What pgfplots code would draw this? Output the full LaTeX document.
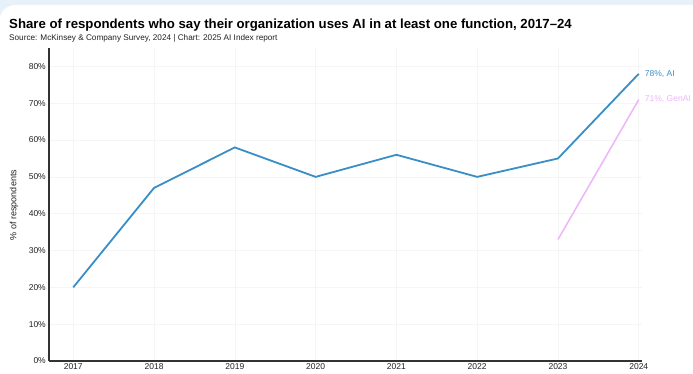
\documentclass[border=0pt]{standalone}
\usepackage{fontspec}
\setmainfont{Liberation Sans}
\usepackage{pgfplots}
\pgfplotsset{compat=1.18}
\definecolor{aiblue}{HTML}{3A8EC6}
\definecolor{genpink}{HTML}{EDB6F8}
\definecolor{bgblue}{HTML}{E7F1FA}
\definecolor{gridc}{HTML}{F5F5F5}
\definecolor{axc}{HTML}{333333}
\definecolor{txt}{HTML}{222222}
\begin{document}
\begin{tikzpicture}[x=1pt,y=1pt]
\useasboundingbox (0,0) rectangle (693,374);
\clip (0,0) rectangle (693,374);
\fill[bgblue] (0,0) rectangle (693,374);
\fill[white, rounded corners=16pt] (-0.5,-40) rectangle (740,369);
\node[anchor=base west, inner sep=0pt, text=black] at (9,345) {\fontsize{13.2}{15}\selectfont\bfseries Share of respondents who say their organization uses AI in at least one function, 2017–24};
\node[anchor=base west, inner sep=0pt, text=txt] at (9,333) {\fontsize{8.2}{10}\selectfont Source: McKinsey \& Company Survey, 2024 | Chart: 2025 AI Index report};
\node[rotate=90, anchor=center, inner sep=0pt, text=txt] at (14,169) {\fontsize{9}{11}\selectfont \% of respondents};
\begin{axis}[
  at={(49pt,13pt)}, anchor=south west,
  scale only axis, width=593pt, height=313pt,
  xmin=2016.70, xmax=2024.04, ymin=0, ymax=85,
  axis lines*=left,
  axis line style={axc, line width=1.1pt},
  xtick={2017,2018,2019,2020,2021,2022,2023,2024},
  xticklabels={2017,2018,2019,2020,2021,2022,2023,2024},
  ytick={0,10,20,30,40,50,60,70,80},
  yticklabel={\pgfmathprintnumber{\tick}\%},
  /pgf/number format/assume math mode=true,
  major tick length=0pt,
  grid=major,
  grid style={gridc, line width=0.6pt},
  ticklabel style={font=\fontsize{8.5}{10}\selectfont, text=txt},
  yticklabel style={inner sep=0pt, anchor=east, xshift=-3pt},
  xticklabel style={inner sep=0pt, anchor=north, yshift=-2pt},
  clip=false,
]
\addplot[aiblue, line width=1.8pt] coordinates {(2017,20)(2018,47)(2019,58)(2020,50)(2021,56)(2022,50)(2023,55)(2024,78)};
\addplot[genpink, line width=1.5pt] coordinates {(2023,33)(2024,71)};
\node[anchor=west, text=aiblue, inner sep=0pt, xshift=6pt] at (axis cs:2024,78) {\fontsize{8.5}{10}\selectfont 78\%, AI};
\node[anchor=west, text=genpink, inner sep=0pt, xshift=6pt] at (axis cs:2024,71) {\fontsize{8.5}{10}\selectfont 71\%, GenAI};
\end{axis}
\end{tikzpicture}
\end{document}
